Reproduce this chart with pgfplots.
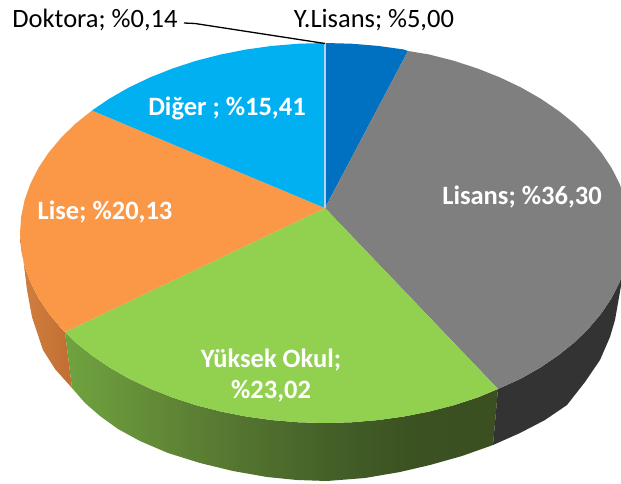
\documentclass[border=0pt]{standalone}
\usepackage{fontspec}
\setmainfont{Carlito}
\usepackage{pgfplots}
\pgfplotsset{compat=1.18}
\definecolor{cblue}{HTML}{0070C0}
\definecolor{cgrey}{HTML}{7F7F7F}
\definecolor{cgreen}{HTML}{92D050}
\definecolor{corange}{HTML}{FB9847}
\definecolor{ccyan}{HTML}{00B0F0}
\definecolor{cdark}{HTML}{333333}
\pgfdeclarehorizontalshading{greenwall}{100bp}{rgb(0bp)=(0.44,0.64,0.25); rgb(25bp)=(0.44,0.64,0.25); rgb(40bp)=(0.36,0.50,0.20); rgb(55bp)=(0.27,0.38,0.16); rgb(65bp)=(0.23,0.32,0.13); rgb(75bp)=(0.23,0.31,0.13); rgb(100bp)=(0.23,0.31,0.13)}
\pgfdeclarehorizontalshading{orangewall}{100bp}{rgb(0bp)=(0.82,0.50,0.25); rgb(25bp)=(0.82,0.50,0.25); rgb(75bp)=(0.76,0.43,0.20); rgb(100bp)=(0.76,0.43,0.20)}
\begin{document}
\begin{tikzpicture}
\useasboundingbox (0,0) rectangle (621pt,484pt);
\begin{axis}[
  scale only axis,
  width=621pt, height=484pt,
  xmin=0, xmax=621, ymin=0, ymax=484,
  y dir=reverse,
  hide axis,
  every axis plot/.append style={draw=none},
]
% side walls
\addplot[shade, shading=orangewall] coordinates {
  (20,233)(21.2,249.6)(24.6,266)(30.4,282.2)(38.4,298)(48.6,313.3)(60.9,328)(65,332)
  (72,388)(55,369)(43,350)(32,317)(27,290)(23,257)(20,233)};
\addplot[shade, shading=greenwall] coordinates {
  (65,332)(75.1,342)(91.4,355.1)(109.3,367.3)(128.9,378.5)(150.1,388.6)(172.5,397.5)(196.1,405.2)
  (220.7,411.5)(246.1,416.5)(272,420.1)(298.4,422.3)(325,423)(351.6,422.3)(378,420.1)(403.9,416.5)
  (429.3,411.5)(453.9,405.2)(477.5,397.5)(498,389)
  (493,445)(462,456)(430,465)(400,472)(365,478)(327,481)(297,480)(267,477)(233,471)(200,463)
  (168,453)(140,441)(118,429)(100,416)(85,403)(72,388)(65,332)};
\addplot[fill=cdark] coordinates {
  (498,389)(521.1,378.5)(540.7,367.3)(558.6,355.1)(574.9,342)(589.1,328)(601.4,313.3)(611.6,298)(619.6,282.2)(625.4,266)
  (625,266)(621.5,283)(618,303)(615,320)(610,337)(600,360)(585,382)(567,405)(545,420)(520,433)(493,445)(498,389)};
% top face
\addplot[fill=cblue] coordinates {
  (325,208)(325,43)(351.6,43.7)(378,45.9)(403.9,49.5)(408,51)(325,208)};
\addplot[fill=cgrey] coordinates {
  (325,208)(408,51)(429.3,54.5)(453.9,60.8)(477.5,68.5)(499.9,77.4)(521.1,87.5)(540.7,98.7)(558.6,110.9)
  (574.9,124)(589.1,138)(601.4,152.7)(611.6,168)(619.6,183.8)(625.4,200)(628.8,216.4)(630,233)(628.8,249.6)
  (625.4,266)(619.6,282.2)(611.6,298)(601.4,313.3)(589.1,328)(574.9,342)(558.6,355.1)(540.7,367.3)(521.1,378.5)(498,389)(325,208)};
\addplot[fill=cgreen] coordinates {
  (325,208)(498,389)(477.5,397.5)(453.9,405.2)(429.3,411.5)(403.9,416.5)(378,420.1)(351.6,422.3)(325,423)
  (298.4,422.3)(272,420.1)(246.1,416.5)(220.7,411.5)(196.1,405.2)(172.5,397.5)(150.1,388.6)(128.9,378.5)
  (109.3,367.3)(91.4,355.1)(75.1,342)(65,332)(325,208)};
\addplot[fill=corange] coordinates {
  (325,208)(65,332)(60.9,328)(48.6,313.3)(38.4,298)(30.4,282.2)(24.6,266)(21.2,249.6)(20,233)(21.2,216.4)
  (24.6,200)(30.4,183.8)(38.4,168)(48.6,152.7)(60.9,138)(75.1,124)(92,110.5)(325,208)};
\addplot[fill=ccyan] coordinates {
  (325,208)(92,110.5)(109.3,98.7)(128.9,87.5)(150.1,77.4)(172.5,68.5)(196.1,60.8)(220.7,54.5)(246.1,49.5)
  (272,45.9)(298.4,43.7)(325,43)(325,208)};
% Doktora sliver and its leader line
\addplot[draw=white!70!cblue, line width=1.1pt] coordinates {(325,208)(325,43)};
\addplot[draw=black, line width=1.3pt] coordinates {(184,23)(195,23.5)(325,43.5)};
% labels
\tikzset{lab/.style={font=\fontsize{26.5}{26.5}\selectfont, text=black},
         wlab/.style={font=\fontsize{26.5}{26.5}\selectfont\bfseries, text=white}}
\node[lab] at (axis cs:95,20) {Doktora; \%0,14};
\node[lab] at (axis cs:374,20) {Y.Lisans; \%5,00};
\node[wlab] at (axis cs:227,108) {Diğer ; \%15,41};
\node[wlab] at (axis cs:522,197) {Lisans; \%36,30};
\node[wlab] at (axis cs:105,212) {Lise; \%20,13};
\node[wlab] at (axis cs:271,360) {Yüksek Okul;};
\node[wlab] at (axis cs:271,391) {\%23,02};
\end{axis}
\end{tikzpicture}
\end{document}
